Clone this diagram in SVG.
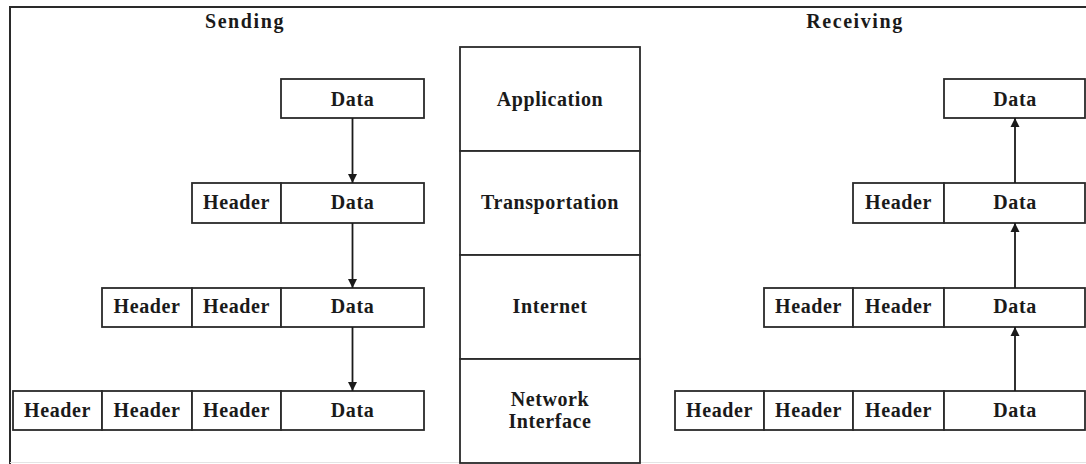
<svg xmlns="http://www.w3.org/2000/svg" width="1086" height="464" viewBox="0 0 1086 464">
<defs>
<marker id="ah" viewBox="0 0 10 10" refX="10" refY="5" markerWidth="9" markerHeight="10" markerUnits="userSpaceOnUse" orient="auto">
<path d="M0,0 L10,5 L0,10 z" fill="#1a1a1a"/>
</marker>
<style>
.c{fill:#fff;stroke:#2a2a2a;stroke-width:1.8}
.t{font-family:"Liberation Serif","Times New Roman",serif;font-weight:bold;font-size:20px;letter-spacing:0.6px;fill:#1a1a1a;text-anchor:middle}
.h{letter-spacing:1.6px}
.f{stroke:#2a2a2a;stroke-width:2;fill:none}
.a{stroke:#1a1a1a;stroke-width:1.8;fill:none;marker-end:url(#ah)}
</style>
</defs>
<rect width="1086" height="464" fill="#fff"/>
<g id="frame">
<line class="f" x1="10" y1="7" x2="1086" y2="7"/>
<line class="f" x1="10" y1="6" x2="10" y2="464"/>
<line x1="10" y1="462.5" x2="1086" y2="462.5" stroke="#e4e4e4" stroke-width="1"/>
</g>
<text class="t h" x="245" y="28">Sending</text>
<text class="t h" x="855" y="28">Receiving</text>

<g id="layers">
<g id="layer-application"><rect class="c" x="460" y="47" width="180" height="104"/><text class="t" x="550" y="106">Application</text></g>
<g id="layer-transportation"><rect class="c" x="460" y="151" width="180" height="104"/><text class="t" x="550" y="209">Transportation</text></g>
<g id="layer-internet"><rect class="c" x="460" y="255" width="180" height="104"/><text class="t" x="550" y="313">Internet</text></g>
<g id="layer-network"><rect class="c" x="460" y="359" width="180" height="104"/><text class="t" x="550" y="406">Network</text><text class="t" x="550" y="428">Interface</text></g>
</g>

<g id="send-1">
<rect class="c" x="281" y="79" width="143" height="39"/><text class="t" x="352.5" y="106">Data</text>
</g>
<g id="send-2">
<rect class="c" x="192" y="183" width="89" height="40"/><text class="t" x="236.5" y="209">Header</text>
<rect class="c" x="281" y="183" width="143" height="40"/><text class="t" x="352.5" y="209">Data</text>
</g>
<g id="send-3">
<rect class="c" x="102" y="288" width="90" height="39"/><text class="t" x="147" y="313">Header</text>
<rect class="c" x="192" y="288" width="89" height="39"/><text class="t" x="236.5" y="313">Header</text>
<rect class="c" x="281" y="288" width="143" height="39"/><text class="t" x="352.5" y="313">Data</text>
</g>
<g id="send-4">
<rect class="c" x="13" y="391" width="89" height="39"/><text class="t" x="57.5" y="417">Header</text>
<rect class="c" x="102" y="391" width="90" height="39"/><text class="t" x="147" y="417">Header</text>
<rect class="c" x="192" y="391" width="89" height="39"/><text class="t" x="236.5" y="417">Header</text>
<rect class="c" x="281" y="391" width="143" height="39"/><text class="t" x="352.5" y="417">Data</text>
</g>

<g id="recv-1">
<rect class="c" x="944" y="79" width="141" height="39"/><text class="t" x="1015" y="106">Data</text>
</g>
<g id="recv-2">
<rect class="c" x="853" y="183" width="91" height="40"/><text class="t" x="898.5" y="209">Header</text>
<rect class="c" x="944" y="183" width="141" height="40"/><text class="t" x="1015" y="209">Data</text>
</g>
<g id="recv-3">
<rect class="c" x="764" y="288" width="89" height="39"/><text class="t" x="808.5" y="313">Header</text>
<rect class="c" x="853" y="288" width="91" height="39"/><text class="t" x="898.5" y="313">Header</text>
<rect class="c" x="944" y="288" width="141" height="39"/><text class="t" x="1015" y="313">Data</text>
</g>
<g id="recv-4">
<rect class="c" x="675" y="391" width="89" height="39"/><text class="t" x="719.5" y="417">Header</text>
<rect class="c" x="764" y="391" width="89" height="39"/><text class="t" x="808.5" y="417">Header</text>
<rect class="c" x="853" y="391" width="91" height="39"/><text class="t" x="898.5" y="417">Header</text>
<rect class="c" x="944" y="391" width="141" height="39"/><text class="t" x="1015" y="417">Data</text>
</g>

<g id="connectors">
<line class="a" x1="352.5" y1="118" x2="352.5" y2="183"/>
<line class="a" x1="352.5" y1="223" x2="352.5" y2="288"/>
<line class="a" x1="352.5" y1="327" x2="352.5" y2="391"/>
<line class="a" x1="1015" y1="183" x2="1015" y2="118"/>
<line class="a" x1="1015" y1="288" x2="1015" y2="223"/>
<line class="a" x1="1015" y1="391" x2="1015" y2="327"/>
</g>
</svg>
